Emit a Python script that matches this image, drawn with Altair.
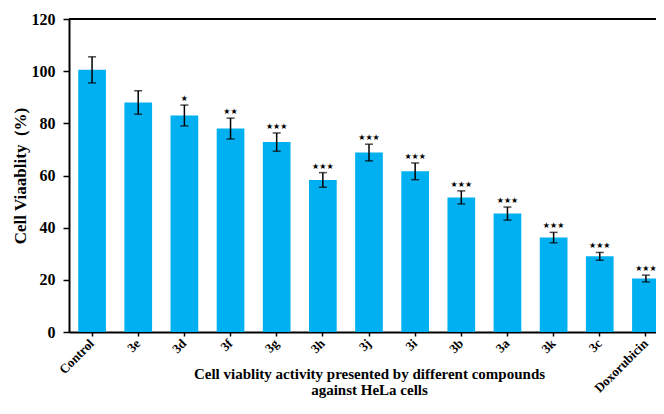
import altair as alt
import pandas as pd

categories = ["Control", "3e", "3d", "3f", "3g", "3h", "3j", "3i", "3b", "3a", "3k", "3c", "Doxorubicin"]
values = [100.5, 88.0, 83.0, 78.0, 72.8, 58.3, 68.8, 61.6, 51.6, 45.4, 36.2, 29.0, 20.5]
errors = [5.0, 4.5, 4.0, 4.0, 3.5, 2.8, 3.2, 3.2, 2.5, 2.5, 2.0, 1.5, 1.3]
stars = ["", "", "\u2605", "\u2605\u2605", "\u2605\u2605\u2605", "\u2605\u2605\u2605", "\u2605\u2605\u2605",
         "\u2605\u2605\u2605", "\u2605\u2605\u2605", "\u2605\u2605\u2605", "\u2605\u2605\u2605",
         "\u2605\u2605\u2605", "\u2605\u2605\u2605"]

df = pd.DataFrame({
    "cat": categories,
    "val": values,
    "lo": [v - e for v, e in zip(values, errors)],
    "hi": [v + e for v, e in zip(values, errors)],
    "star": stars,
})

W, H = 587, 313
XR = 600
FONT = "Liberation Serif"

xscale = alt.Scale(range=[0, XR], paddingInner=0.4, paddingOuter=0.2)
yscale = alt.Scale(domain=[0, 120])

xenc = alt.X("cat:N", sort=categories, scale=xscale,
             axis=alt.Axis(title=["Cell viablity activity presented by different compounds", "against HeLa cells"],
                           labelAngle=-45, labelAlign="right", labelBaseline="middle",
                           labelFont=FONT, labelFontWeight="bold", labelFontSize=13,
                           labelPadding=5, labelOffset=0, labelColor="black",
                           tickSize=4, tickColor="black", tickWidth=1.5,
                           domainColor="black", domainWidth=2,
                           titleFont=FONT, titleFontWeight="bold", titleFontSize=15,
                           titleColor="black", titleLineHeight=16, titleBaseline="alphabetic",
                           titleY=46, titleX=300))

bars = alt.Chart(df).mark_bar(color="#00B0F0").encode(
    x=xenc,
    y=alt.Y("val:Q", scale=yscale,
            axis=alt.Axis(title="Cell Viaablity \u00a0(%)", values=[0, 20, 40, 60, 80, 100, 120],
                          grid=False, labelFont=FONT, labelFontWeight="bold", labelFontSize=16,
                          labelColor="black", labelPadding=8,
                          tickSize=6, tickColor="black", tickWidth=1.5,
                          domainColor="black", domainWidth=2,
                          titleFont=FONT, titleFontWeight="bold", titleFontSize=17,
                          titleColor="black", titlePadding=2)),
)

err = alt.Chart(df).mark_rule(color="black", strokeWidth=1.5).encode(
    x=alt.X("cat:N", sort=categories, scale=xscale),
    y=alt.Y("lo:Q", scale=yscale),
    y2="hi:Q",
)
cap_hi = alt.Chart(df).mark_tick(color="black", thickness=1.5, size=8, orient="horizontal").encode(
    x=alt.X("cat:N", sort=categories, scale=xscale),
    y=alt.Y("hi:Q", scale=yscale),
)
cap_lo = alt.Chart(df).mark_tick(color="black", thickness=1.5, size=8, orient="horizontal").encode(
    x=alt.X("cat:N", sort=categories, scale=xscale),
    y=alt.Y("lo:Q", scale=yscale),
)
txt = alt.Chart(df).mark_text(font="DejaVu Sans", fontSize=8, color="black", baseline="bottom", dy=-2).encode(
    x=alt.X("cat:N", sort=categories, scale=xscale),
    y=alt.Y("hi:Q", scale=yscale),
    text="star:N",
)
top = alt.Chart(df).mark_rule(color="black", strokeWidth=2).encode(
    x=alt.value(0), x2=alt.value(XR), y=alt.value(0),
)

chart = alt.layer(bars, err, cap_hi, cap_lo, txt, top).properties(
    width=W, height=H,
    autosize=alt.AutoSizeParams(type="none"),
    padding={"left": 61, "top": 11, "right": 0, "bottom": 68},
).configure_view(stroke=None).configure(background="white")

chart.save("out.html", embed_options={"renderer": "svg", "actions": False})
